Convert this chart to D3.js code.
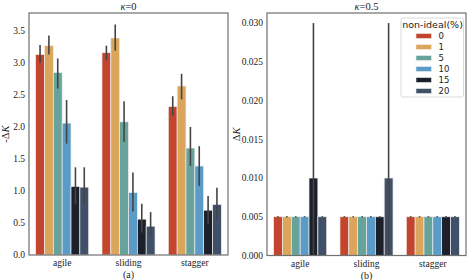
<!DOCTYPE html>
<html>
<head>
<meta charset="utf-8">
<script src="https://cdn.jsdelivr.net/npm/d3@7"></script>
<style>
  body { margin: 0; background: #fff; }
</style>
</head>
<body>
<svg id="chart" width="471" height="280"></svg>
<script>
// categories and hue levels
const categories = ['agile', 'sliding', 'stagger'];
const levels = ['0', '1', '5', '10', '15', '20'];
const colors = ['#c4452d', '#dba65c', '#67a39a', '#5b9bc7', '#1b202b', '#3f5068'];

// kappa = 0 : mean and CI per category (rows) x level (cols)
const meanA = [
  [3.13, 3.27, 2.85, 2.06, 1.07, 1.06],
  [3.16, 3.39, 2.08, 0.975, 0.56, 0.45],
  [2.32, 2.64, 1.67, 1.39, 0.70, 0.79]
];
const loA = [
  [3.00, 3.13, 2.60, 1.74, 0.79, 0.80],
  [3.04, 3.19, 1.77, 0.68, 0.35, 0.28],
  [2.18, 2.43, 1.39, 1.08, 0.49, 0.55]
];
const hiA = [
  [3.28, 3.43, 3.07, 2.42, 1.37, 1.37],
  [3.27, 3.60, 2.40, 1.29, 0.80, 0.67],
  [2.48, 2.83, 2.00, 1.70, 0.92, 1.05]
];

// kappa = 0.5
const meanB = [
  [0.005, 0.005, 0.005, 0.005, 0.010, 0.005],
  [0.005, 0.005, 0.005, 0.005, 0.005, 0.010],
  [0.005, 0.005, 0.005, 0.005, 0.005, 0.005]
];
const loB = [
  [0.005, 0.005, 0.005, 0.005, 0.000, 0.005],
  [0.005, 0.005, 0.005, 0.005, 0.005, 0.000],
  [0.005, 0.005, 0.005, 0.005, 0.005, 0.005]
];
const hiB = [
  [0.005, 0.005, 0.005, 0.005, 0.030, 0.005],
  [0.005, 0.005, 0.005, 0.005, 0.005, 0.030],
  [0.005, 0.005, 0.005, 0.005, 0.005, 0.005]
];

const ticksA = [0, 0.5, 1.0, 1.5, 2.0, 2.5, 3.0, 3.5];
const ticksB = [0, 0.005, 0.010, 0.015, 0.020, 0.025, 0.030];

const SERIF = '"Liberation Serif", "Times New Roman", "DejaVu Serif", serif';
const SANS = '"DejaVu Sans", sans-serif';

const svg = d3.select('#chart');

function drawPanel(opt) {
  const g = svg.append('g');
  const x = d3.scaleBand().domain(categories).range([opt.x0, opt.x1]).paddingInner(0).paddingOuter(0);
  const xs = d3.scaleBand().domain(levels).range([0, x.bandwidth() * 0.8]);
  const y = d3.scaleLinear().domain(opt.domain).range([opt.y1, opt.y0]);

  // bars
  categories.forEach((cat, ci) => {
    const gx = x(cat) + x.bandwidth() * 0.1;
    levels.forEach((lv, li) => {
      g.append('rect')
        .attr('x', gx + xs(lv))
        .attr('y', y(opt.mean[ci][li]))
        .attr('width', xs.bandwidth())
        .attr('height', y(0) - y(opt.mean[ci][li]))
        .attr('fill', colors[li])
        .attr('stroke', '#eeeeee')
        .attr('stroke-width', 0.7);
    });
  });

  // error bars
  categories.forEach((cat, ci) => {
    const gx = x(cat) + x.bandwidth() * 0.1;
    levels.forEach((lv, li) => {
      const cx = gx + xs(lv) + xs.bandwidth() / 2;
      const lo = opt.lo[ci][li], hi = opt.hi[ci][li];
      if (hi - lo > 1e-9) {
        g.append('line')
          .attr('x1', cx).attr('x2', cx)
          .attr('y1', y(lo)).attr('y2', y(hi))
          .attr('stroke', '#444')
          .attr('stroke-width', 1.6);
      } else {
        g.append('line')
          .attr('x1', cx - 0.8).attr('x2', cx + 0.8)
          .attr('y1', y(lo)).attr('y2', y(lo))
          .attr('stroke', '#555')
          .attr('stroke-width', 1.4);
      }
    });
  });

  // frame
  g.append('rect')
    .attr('x', opt.x0).attr('y', opt.y0)
    .attr('width', opt.x1 - opt.x0).attr('height', opt.y1 - opt.y0)
    .attr('fill', 'none')
    .attr('stroke', '#707070')
    .attr('stroke-width', 1.2);

  // y ticks
  g.selectAll('.ytick').data(opt.ticks).enter().append('text')
    .attr('x', opt.x0 - 4)
    .attr('y', d => y(d))
    .attr('dy', '0.35em')
    .attr('text-anchor', 'end')
    .attr('fill', '#222')
    .style('font-family', SERIF)
    .style('font-size', '9.5px')
    .text(opt.fmt);

  // x labels
  g.selectAll('.xtick').data(categories).enter().append('text')
    .attr('x', d => x(d) + x.bandwidth() / 2)
    .attr('y', opt.y1 + 11)
    .attr('text-anchor', 'middle')
    .attr('fill', '#222')
    .style('font-family', SERIF)
    .style('font-size', '9.5px')
    .text(d => d);

  // sub caption
  g.append('text')
    .attr('x', (opt.x0 + opt.x1) / 2)
    .attr('y', opt.y1 + 23)
    .attr('text-anchor', 'middle')
    .attr('fill', '#222')
    .style('font-family', SERIF)
    .style('font-size', '10px')
    .text(opt.caption);

  // title
  const t = g.append('text')
    .attr('x', (opt.x0 + opt.x1) / 2)
    .attr('y', opt.y0 - 3)
    .attr('text-anchor', 'middle')
    .attr('fill', '#222')
    .style('font-family', SERIF)
    .style('font-size', '10.5px');
  t.append('tspan').style('font-style', 'italic').text('κ');
  t.append('tspan').text('=' + opt.kappa);

  // y label
  const yl = g.append('text')
    .attr('transform', `translate(${opt.ylx},${(opt.y0 + opt.y1) / 2}) rotate(-90)`)
    .attr('text-anchor', 'middle')
    .attr('fill', '#222')
    .style('font-family', SERIF)
    .style('font-size', '10.5px');
  yl.append('tspan').text(opt.ylabel);
  yl.append('tspan').style('font-style', 'italic').text('K');

  return g;
}

drawPanel({
  x0: 29, x1: 228, y0: 13, y1: 255,
  domain: [0, 3.78],
  mean: meanA, lo: loA, hi: hiA,
  ticks: ticksA, fmt: d3.format('.1f'),
  caption: '(a)', kappa: '0',
  ylabel: '-Δ', ylx: 9
});

drawPanel({
  x0: 267, x1: 466, y0: 13, y1: 255.5,
  domain: [0, 0.0313],
  mean: meanB, lo: loB, hi: hiB,
  ticks: ticksB, fmt: d3.format('.3f'),
  caption: '(b)', kappa: '0.5',
  ylabel: 'Δ', ylx: 240
});

// legend
const lg = svg.append('g').attr('transform', 'translate(401,18)');
lg.append('rect')
  .attr('width', 62.5).attr('height', 79)
  .attr('rx', 2)
  .attr('fill', '#fff')
  .attr('fill-opacity', 0.85)
  .attr('stroke', '#d0d0d0')
  .attr('stroke-width', 0.8);
lg.append('text')
  .attr('x', 31.5).attr('y', 9.5)
  .attr('text-anchor', 'middle')
  .attr('fill', '#222')
  .style('font-family', SANS)
  .style('font-size', '9.5px')
  .text('non-ideal(%)');
levels.forEach((lv, i) => {
  const ry = 18 + i * 11;
  lg.append('rect')
    .attr('x', 15).attr('y', ry - 2.5)
    .attr('width', 15.5).attr('height', 5)
    .attr('fill', colors[i])
    .attr('stroke', '#eeeeee')
    .attr('stroke-width', 0.6);
  lg.append('text')
    .attr('x', 37.5).attr('y', ry)
    .attr('dy', '0.35em')
    .attr('fill', '#222')
    .style('font-family', SANS)
    .style('font-size', '8.5px')
    .text(lv);
});
</script>
</body>
</html>
